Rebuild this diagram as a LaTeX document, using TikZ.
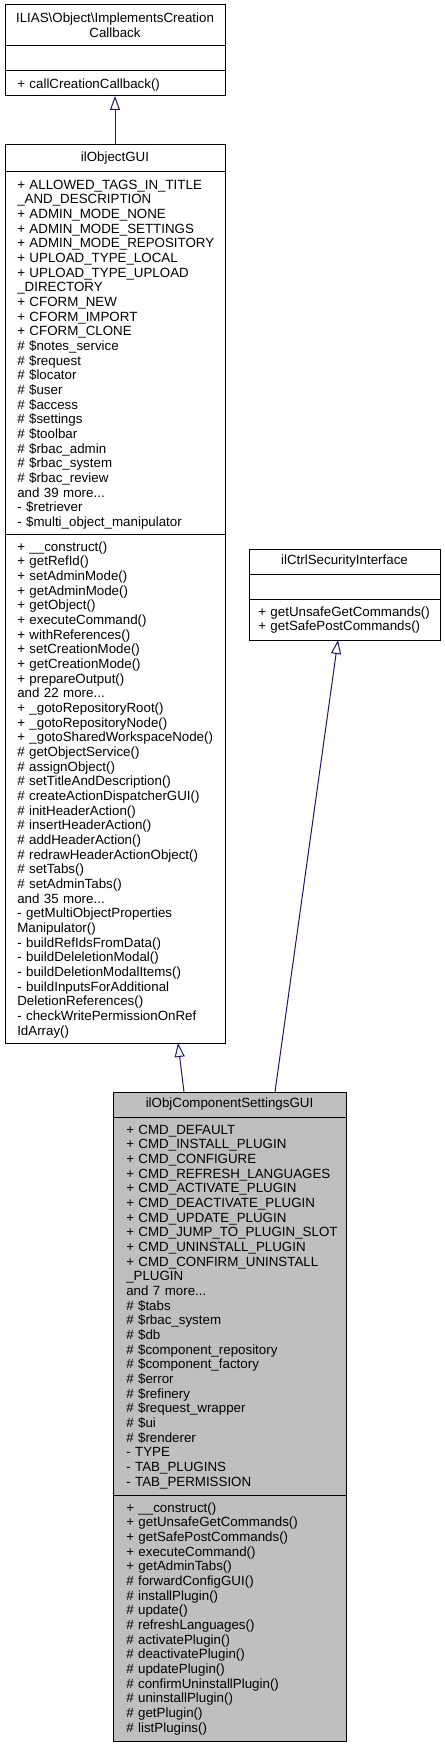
\documentclass[tikz,border=0pt]{standalone}
\usepackage{fontspec}
\setmainfont{Liberation Sans}
\usetikzlibrary{arrows.meta,calc,positioning}
\definecolor{edgeblue}{HTML}{191970}
\definecolor{hlgray}{HTML}{BFBFBF}
\newcommand{\umlfont}{\fontsize{10}{11}\selectfont}

\begin{document}
\begin{tikzpicture}[
  classbox/.style={draw=black,line width=0.75pt,outer sep=0pt,inner sep=0pt,
    anchor=north west,align=center,font=\umlfont},
  hlbox/.style={classbox,fill=hlgray},
  members/.style={anchor=north west,align=left,inner sep=0pt,text width=180pt,
    font=\umlfont,execute at begin node=\strut},
  inherit/.style={draw=edgeblue,line width=0.75pt,
    -{Triangle[open,length=10.5pt,width=7.5pt]}}]
  \useasboundingbox (0,0) rectangle (333.75pt,-1310.25pt);

  % ILIAS\Object\ImplementsCreationCallback
  \node[classbox,minimum width=165pt,minimum height=30.75pt] (callback) at (3.75pt,-3.75pt)
    {ILIAS\textbackslash Object\textbackslash ImplementsCreation\\Callback};
  \node[classbox,minimum width=165pt,minimum height=18.75pt,below=0pt of callback] (callback attr) {};
  \node[classbox,minimum width=165pt,minimum height=18.75pt,below=0pt of callback attr] (callback meth) {};
  \node[members] (callback meth text) at ([xshift=9pt,yshift=-5pt]callback meth.north west)
    {+ callCreationCallback()};

  % ilObjectGUI
  \node[classbox,minimum width=165pt,minimum height=20.25pt] (objgui) at (3.75pt,-108.75pt) {ilObjectGUI};
  \node[classbox,minimum width=165pt,minimum height=271.5pt,below=0pt of objgui] (objgui attr) {};
  \node[classbox,minimum width=165pt,minimum height=381.75pt,below=0pt of objgui attr] (objgui meth) {};
  \node[members] (objgui attr text) at ([xshift=9pt,yshift=-5pt]objgui attr.north west) {%
    + ALLOWED\_TAGS\_IN\_TITLE\\
    \_AND\_DESCRIPTION\\
    + ADMIN\_MODE\_NONE\\
    + ADMIN\_MODE\_SETTINGS\\
    + ADMIN\_MODE\_REPOSITORY\\
    + UPLOAD\_TYPE\_LOCAL\\
    + UPLOAD\_TYPE\_UPLOAD\\
    \_DIRECTORY\\
    + CFORM\_NEW\\
    + CFORM\_IMPORT\\
    + CFORM\_CLONE\\
    \# \$notes\_service\\
    \# \$request\\
    \# \$locator\\
    \# \$user\\
    \# \$access\\
    \# \$settings\\
    \# \$toolbar\\
    \# \$rbac\_admin\\
    \# \$rbac\_system\\
    \# \$rbac\_review\\
    and 39 more...\\
    - \$retriever\\
    - \$multi\_object\_manipulator};
  \node[members] (objgui meth text) at ([xshift=9pt,yshift=-5pt]objgui meth.north west) {%
    + \_\_construct()\\
    + getRefId()\\
    + setAdminMode()\\
    + getAdminMode()\\
    + getObject()\\
    + executeCommand()\\
    + withReferences()\\
    + setCreationMode()\\
    + getCreationMode()\\
    + prepareOutput()\\
    and 22 more...\\
    + \_gotoRepositoryRoot()\\
    + \_gotoRepositoryNode()\\
    + \_gotoSharedWorkspaceNode()\\
    \# getObjectService()\\
    \# assignObject()\\
    \# setTitleAndDescription()\\
    \# createActionDispatcherGUI()\\
    \# initHeaderAction()\\
    \# insertHeaderAction()\\
    \# addHeaderAction()\\
    \# redrawHeaderActionObject()\\
    \# setTabs()\\
    \# setAdminTabs()\\
    and 35 more...\\
    - getMultiObjectProperties\\
    Manipulator()\\
    - buildRefIdsFromData()\\
    - buildDeleletionModal()\\
    - buildDeletionModalItems()\\
    - buildInputsForAdditional\\
    DeletionReferences()\\
    - checkWritePermissionOnRef\\
    IdArray()};

  % ilCtrlSecurityInterface
  \node[classbox,minimum width=143.25pt,minimum height=18.75pt] (security) at (186.75pt,-411.75pt) {ilCtrlSecurityInterface};
  \node[classbox,minimum width=143.25pt,minimum height=18.75pt,below=0pt of security] (security attr) {};
  \node[classbox,minimum width=143.25pt,minimum height=30.75pt,below=0pt of security attr] (security meth) {};
  \node[members] (security meth text) at ([xshift=6.75pt,yshift=-5pt]security meth.north west) {%
    + getUnsafeGetCommands()\\
    + getSafePostCommands()};

  % ilObjComponentSettingsGUI
  \node[hlbox,minimum width=174.75pt,minimum height=18.75pt] (settingsgui) at (84.75pt,-819pt) {ilObjComponentSettingsGUI};
  \node[hlbox,minimum width=174.75pt,minimum height=283.5pt,below=0pt of settingsgui] (settingsgui attr) {};
  \node[hlbox,minimum width=174.75pt,minimum height=184.5pt,below=0pt of settingsgui attr] (settingsgui meth) {};
  \node[members] (settingsgui attr text) at ([xshift=9.75pt,yshift=-5pt]settingsgui attr.north west) {%
    + CMD\_DEFAULT\\
    + CMD\_INSTALL\_PLUGIN\\
    + CMD\_CONFIGURE\\
    + CMD\_REFRESH\_LANGUAGES\\
    + CMD\_ACTIVATE\_PLUGIN\\
    + CMD\_DEACTIVATE\_PLUGIN\\
    + CMD\_UPDATE\_PLUGIN\\
    + CMD\_JUMP\_TO\_PLUGIN\_SLOT\\
    + CMD\_UNINSTALL\_PLUGIN\\
    + CMD\_CONFIRM\_UNINSTALL\\
    \_PLUGIN\\
    and 7 more...\\
    \# \$tabs\\
    \# \$rbac\_system\\
    \# \$db\\
    \# \$component\_repository\\
    \# \$component\_factory\\
    \# \$error\\
    \# \$refinery\\
    \# \$request\_wrapper\\
    \# \$ui\\
    \# \$renderer\\
    - TYPE\\
    - TAB\_PLUGINS\\
    - TAB\_PERMISSION};
  \node[members] (settingsgui meth text) at ([xshift=9.75pt,yshift=-5pt]settingsgui meth.north west) {%
    + \_\_construct()\\
    + getUnsafeGetCommands()\\
    + getSafePostCommands()\\
    + executeCommand()\\
    + getAdminTabs()\\
    \# forwardConfigGUI()\\
    \# installPlugin()\\
    \# update()\\
    \# refreshLanguages()\\
    \# activatePlugin()\\
    \# deactivatePlugin()\\
    \# updatePlugin()\\
    \# confirmUninstallPlugin()\\
    \# uninstallPlugin()\\
    \# getPlugin()\\
    \# listPlugins()};

  % inheritance
  \draw[inherit] (objgui.north) -- (callback meth.south);
  \draw[inherit] ($(settingsgui.north west)+(53.25pt,0)$) -- ($(objgui meth.south west)+(129.75pt,0)$);
  \draw[inherit] ($(settingsgui.north west)+(121.5pt,0)$) -- ($(security meth.south west)+(66.75pt,0)$);
\end{tikzpicture}
\end{document}
